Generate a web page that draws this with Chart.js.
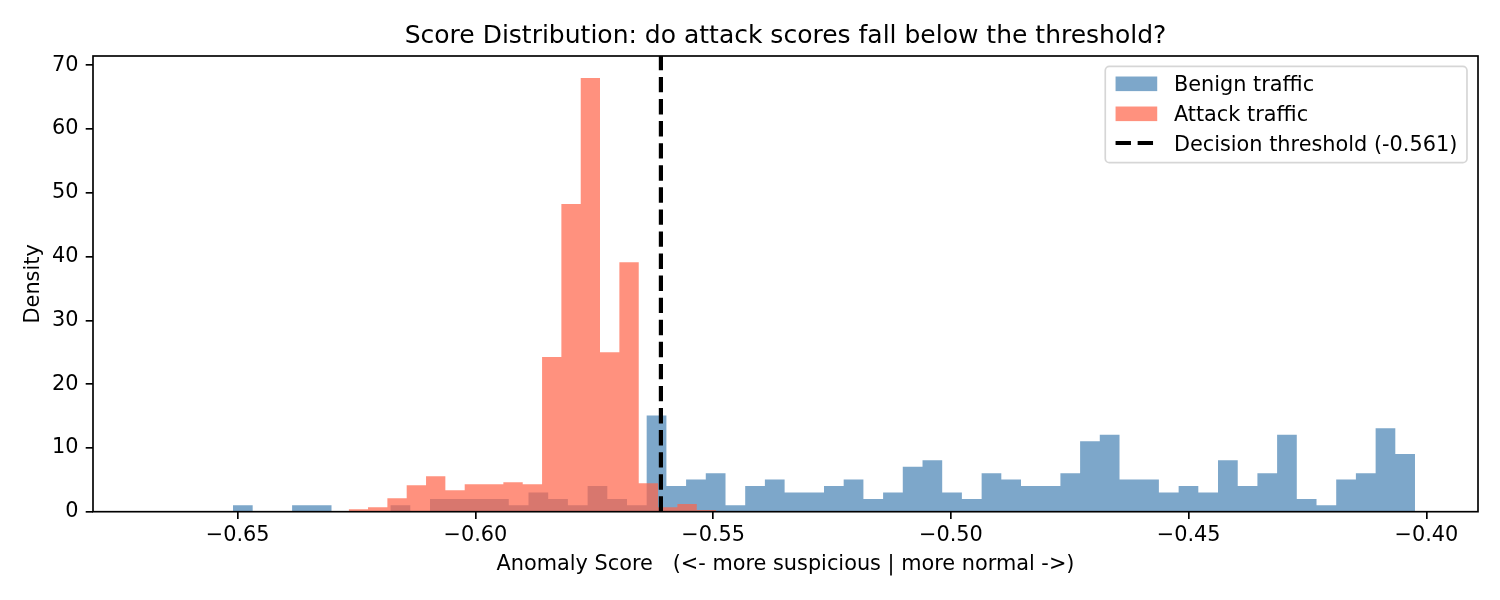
<!DOCTYPE html>
<html>
<head>
<meta charset="utf-8">
<script src="https://cdn.jsdelivr.net/npm/chart.js@4.4.1/dist/chart.umd.min.js"></script>
<style>
  html, body { margin: 0; padding: 0; background: #ffffff; }
  #wrap { width: 1500px; height: 600px; }
  canvas { display: block; }
</style>
</head>
<body>
<div id="wrap"><canvas id="c" width="1500" height="600"></canvas></div>
<script>
// ---------------- data ----------------
const titleText = 'Score Distribution: do attack scores fall below the threshold?';
const xTitle = 'Anomaly Score   (<- more suspicious | more normal ->)';
const yTitle = 'Density';
const benignLabel = 'Benign traffic';
const attackLabel = 'Attack traffic';
const thresholdValue = -0.561;
const thresholdLabel = 'Decision threshold (-0.561)';

// histogram bin edges (left edge of each bin + final right edge)
const benignEdges = [
  -0.65099, -0.64685, -0.64270, -0.63856, -0.63442, -0.63027, -0.62613, -0.62199, -0.61785, -0.61370,
  -0.60956, -0.60542, -0.60127, -0.59713, -0.59299, -0.58884, -0.58470, -0.58056, -0.57641, -0.57227,
  -0.56813, -0.56399, -0.55984, -0.55570, -0.55156, -0.54741, -0.54327, -0.53913, -0.53498, -0.53084,
  -0.52670, -0.52256, -0.51841, -0.51427, -0.51013, -0.50598, -0.50184, -0.49770, -0.49355, -0.48941,
  -0.48527, -0.48112, -0.47698, -0.47284, -0.46870, -0.46455, -0.46041, -0.45627, -0.45212, -0.44798,
  -0.44384, -0.43969, -0.43555, -0.43141, -0.42727, -0.42312, -0.41898, -0.41484, -0.41069, -0.40655,
  -0.40241
];
const benignDensity = [
  1.01, 0, 0, 1.01, 1.01, 0, 0, 0, 1.01, 0,
  2.01, 2.01, 2.01, 2.01, 1.01, 3.02, 2.01, 1.01, 4.02, 2.01,
  1.01, 15.09, 4.02, 5.03, 6.03, 1.01, 4.02, 5.03, 3.02, 3.02,
  4.02, 5.03, 2.01, 3.02, 7.04, 8.05, 3.02, 2.01, 6.03, 5.03,
  4.02, 4.02, 6.03, 11.06, 12.07, 5.03, 5.03, 3.02, 4.02, 3.02,
  8.05, 4.02, 6.03, 12.07, 2.01, 1.01, 5.03, 6.03, 13.07, 9.05
];
const attackEdges = [
  -0.62666, -0.62259, -0.61852, -0.61446, -0.61039, -0.60633, -0.60226, -0.59819, -0.59413, -0.59006,
  -0.58599, -0.58193, -0.57786, -0.57380, -0.56973, -0.56566, -0.56160, -0.55753, -0.55346, -0.54940
];
const attackDensity = [
  0.40, 0.70, 2.12, 4.15, 5.56, 3.37, 4.31, 4.31, 4.62, 4.31,
  24.25, 48.24, 68.00, 25.00, 39.10, 4.46, 0.70, 1.20, 0.26
];
const xTicks = [-0.65, -0.60, -0.55, -0.50, -0.45, -0.40];
const yTicks = [0, 10, 20, 30, 40, 50, 60, 70];
const xLimits = [-0.68043, -0.38916];
const yLimits = [0, 71.44];

// ---------------- styling ----------------
const FONT = '"DejaVu Sans", "Liberation Sans", sans-serif';
const benignColor = 'rgba(70,130,180,0.7)';
const attackColor = 'rgba(255,99,71,0.7)';
const lblSize = 20.83;

function histPoints(edges, dens) {
  return edges.map((x, i) => ({ x: x, y: i < dens.length ? dens[i] : 0 }));
}

const spinesPlugin = {
  id: 'spines',
  afterDatasetsDraw(chart) {
    const { ctx, chartArea: a } = chart;
    ctx.save();
    ctx.strokeStyle = '#000';
    ctx.lineWidth = 1.67;
    ctx.strokeRect(a.left, a.top, a.right - a.left, a.bottom - a.top);
    ctx.restore();
  }
};

const legendPlugin = {
  id: 'mplLegend',
  afterDraw(chart) {
    const { ctx, chartArea: a } = chart;
    const ds = chart.data.datasets;
    const items = [ds[0], ds[1], ds[2]];
    ctx.save();
    ctx.font = lblSize + 'px ' + FONT;
    const textW = Math.max(...items.map(d => ctx.measureText(d.label).width));
    const padL = 10.3, padR = 9.7, handleLen = 2 * lblSize, handlePad = 0.8 * lblSize;
    const w = padL + handleLen + handlePad + textW + padR;
    const h = 96.3;
    const right = a.right - 0.5 * lblSize - 0.6;
    const top = a.top + 0.5 * lblSize;
    const left = right - w;
    const r = 4.2;
    ctx.beginPath();
    ctx.moveTo(left + r, top);
    ctx.lineTo(right - r, top);
    ctx.arcTo(right, top, right, top + r, r);
    ctx.lineTo(right, top + h - r);
    ctx.arcTo(right, top + h, right - r, top + h, r);
    ctx.lineTo(left + r, top + h);
    ctx.arcTo(left, top + h, left, top + h - r, r);
    ctx.lineTo(left, top + r);
    ctx.arcTo(left, top, left + r, top, r);
    ctx.closePath();
    ctx.fillStyle = 'rgba(255,255,255,0.8)';
    ctx.fill();
    ctx.lineWidth = 1.7;
    ctx.strokeStyle = 'rgba(204,204,204,0.8)';
    ctx.stroke();

    items.forEach((d, i) => {
      const base = top + 24.3 + i * 30;
      const hx = left + padL;
      if (d.legendKind === 'patch') {
        ctx.fillStyle = d.backgroundColor;
        ctx.fillRect(hx, base - 14.2, handleLen, 14.6);
      } else {
        ctx.save();
        ctx.strokeStyle = d.borderColor;
        ctx.lineWidth = d.borderWidth;
        ctx.setLineDash(d.borderDash);
        ctx.lineCap = 'butt';
        ctx.beginPath();
        ctx.moveTo(hx, base - 7.7);
        ctx.lineTo(hx + handleLen, base - 7.7);
        ctx.stroke();
        ctx.restore();
      }
      ctx.fillStyle = '#000';
      ctx.textBaseline = 'alphabetic';
      ctx.textAlign = 'left';
      ctx.fillText(d.label, hx + handleLen + handlePad, base);
    });
    ctx.restore();
  }
};

const tickFont = { family: FONT, size: lblSize };

new Chart(document.getElementById('c'), {
  type: 'line',
  data: {
    datasets: [
      {
        label: benignLabel,
        legendKind: 'patch',
        data: histPoints(benignEdges, benignDensity),
        stepped: true,
        fill: 'origin',
        backgroundColor: benignColor,
        borderColor: 'rgba(0,0,0,0)',
        borderWidth: 0,
        pointRadius: 0,
        pointHoverRadius: 0,
        order: 2
      },
      {
        label: attackLabel,
        legendKind: 'patch',
        data: histPoints(attackEdges, attackDensity),
        stepped: true,
        fill: 'origin',
        backgroundColor: attackColor,
        borderColor: 'rgba(0,0,0,0)',
        borderWidth: 0,
        pointRadius: 0,
        pointHoverRadius: 0,
        order: 1
      },
      {
        label: thresholdLabel,
        legendKind: 'line',
        data: [{ x: thresholdValue, y: yLimits[0] }, { x: thresholdValue, y: yLimits[1] }],
        borderColor: '#000000',
        borderWidth: 4.17,
        borderDash: [15.4, 6.67],
        borderCapStyle: 'butt',
        fill: false,
        pointRadius: 0,
        pointHoverRadius: 0,
        order: 0
      }
    ]
  },
  options: {
    responsive: false,
    maintainAspectRatio: false,
    devicePixelRatio: 1,
    animation: false,
    events: [],
    layout: { padding: { left: 0, right: 22, top: 0, bottom: 0 } },
    plugins: {
      legend: { display: false },
      tooltip: { enabled: false },
      title: {
        display: true,
        fullSize: false,
        text: titleText,
        color: '#000',
        font: { family: FONT, size: 25, weight: 'normal' },
        padding: { top: 21, bottom: 5 }
      }
    },
    scales: {
      x: {
        type: 'linear',
        min: xLimits[0],
        max: xLimits[1],
        offset: false,
        afterBuildTicks: s => { s.ticks = xTicks.map(v => ({ value: v })); },
        afterFit: s => { s.height = 88.3; },
        grid: { display: true, drawOnChartArea: false, drawTicks: true, tickLength: 7.3, color: '#000', lineWidth: 1.67, offset: false },
        border: { display: false },
        ticks: {
          color: '#000', font: tickFont, padding: 4, maxRotation: 0, autoSkip: false,
          callback: v => (v < 0 ? '\u2212' : '') + Math.abs(v).toFixed(2)
        },
        title: {
          display: true, text: xTitle, color: '#000',
          font: { family: FONT, size: lblSize }, padding: { top: 0, bottom: 23 }
        }
      },
      y: {
        type: 'linear',
        min: yLimits[0],
        max: yLimits[1],
        afterBuildTicks: s => { s.ticks = yTicks.map(v => ({ value: v })); },
        afterFit: s => { s.width = 93; },
        grid: { display: true, drawOnChartArea: false, drawTicks: true, tickLength: 7.3, color: '#000', lineWidth: 1.67 },
        border: { display: false },
        ticks: { color: '#000', font: tickFont, padding: 7.3, callback: v => String(v) },
        title: {
          display: true, text: yTitle, color: '#000',
          font: { family: FONT, size: lblSize }, padding: { top: 21, bottom: 0 }
        }
      }
    }
  },
  plugins: [spinesPlugin, legendPlugin]
});
</script>
</body>
</html>
